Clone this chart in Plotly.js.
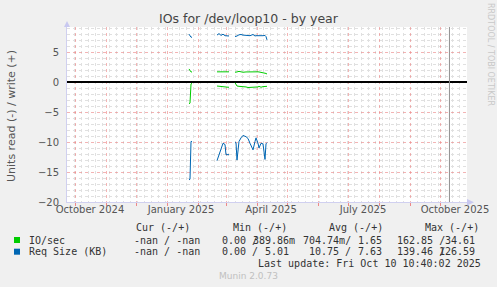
<!DOCTYPE html>
<html>
<head>
<meta charset="utf-8">
<script src="https://cdn.plot.ly/plotly-3.0.1.min.js"></script>
<style>html,body{margin:0;padding:0;background:#f0f0f0;}#chart{width:497px;height:287px;}</style>
</head>
<body>
<div id="chart"></div>
<script>
// ---- data ----
var dates = [
  "2025-01-23","2025-01-24","2025-01-25","2025-01-26",
  "2025-02-01",
  "2025-02-20","2025-02-22","2025-02-24","2025-02-26","2025-02-28","2025-03-01","2025-03-03","2025-03-04",
  "2025-03-07",
  "2025-03-10","2025-03-11","2025-03-12","2025-03-14","2025-03-16","2025-03-18","2025-03-21","2025-03-23","2025-03-25",
  "2025-03-28","2025-03-30","2025-03-31","2025-04-02","2025-04-03","2025-04-05","2025-04-07","2025-04-09","2025-04-10","2025-04-11"
];
var ioWrite = [2.2,2.0,1.7,1.7, null,
  1.72,1.72,1.72,1.72,1.72,1.72,1.72,1.72, null,
  1.65,1.65,1.7,1.8,1.7,1.65,1.7,1.72,1.72,1.72,1.7,1.68,1.72,1.7,1.65,1.62,1.55,1.45,1.35];
var ioRead = [-3.6,-3.5,-0.3,-0.2, null,
  -0.65,-0.7,-0.8,-0.85,-0.85,-0.85,-0.85,-0.85, null,
  -0.1,-0.5,-0.65,-0.7,-0.7,-0.7,-0.8,-0.9,-0.9,-0.85,-0.85,-0.8,-0.8,-0.7,-0.85,-0.75,-0.7,-0.75,-0.7];
var reqWrite = [8.0,7.8,7.5,7.5, null,
  7.85,8.1,7.8,8.0,7.75,7.75,7.75,7.7, null,
  7.6,7.6,7.7,7.9,7.95,7.85,7.8,7.8,7.75,7.95,7.7,7.75,7.8,7.75,7.75,7.75,7.8,7.6,7.05];
var reqRead = [-16.3,-16.2,-9.9,-9.9, null,
  -13.1,-12.2,-11.0,-10.2,-10.4,-12.1,-12.1,-12.1, null,
  -10.0,-10.1,-13.0,-9.9,-9.3,-8.9,-9.1,-9.4,-10.2,-11.3,-9.9,-9.3,-10.2,-11.0,-10.2,-10.3,-12.9,-10.3,-10.1];

var tickVals = ["2024-10-16","2025-01-15","2025-04-15","2025-07-16","2025-10-16"];
var tickText = ["October 2024","January 2025","April 2025","July 2025","October 2025"];
var xRange = ["2024-09-23","2025-10-28"];
var yRange = [-20, 9.2];
var lastUpdate = "2025-10-10 10:40";

var legendNames = ["IO/sec","Req Size (KB)"];
var curVals = ["-nan / -nan","-nan / -nan"];
var NB = "\u00a0";
var minRead  = ["0.00" + NB, "0.00" + NB];
var minWrite = ["389.86m", "5.01" + NB];
var avgRead  = ["704.74m", "10.75" + NB];
var avgWrite = ["1.65" + NB, "7.63" + NB];
var maxRead  = ["162.85" + NB, "139.46" + NB];
var maxWrite = ["34.61" + NB, "126.59" + NB];

var GREEN = "#00cc00", BLUE = "#0066b3";

// ---- traces ----
var traces = [
  {x: dates, y: ioRead, type: "scatter", mode: "lines", line: {color: GREEN, width: 1}, connectgaps: false, hoverinfo: "skip"},
  {x: dates, y: ioWrite, type: "scatter", mode: "lines", line: {color: GREEN, width: 1}, connectgaps: false, hoverinfo: "skip", xaxis: "x2"},
  {x: dates, y: reqRead, type: "scatter", mode: "lines", line: {color: BLUE, width: 1}, connectgaps: false, hoverinfo: "skip"},
  {x: dates, y: reqWrite, type: "scatter", mode: "lines", line: {color: BLUE, width: 1}, connectgaps: false, hoverinfo: "skip"}
];

// ---- layout helpers (pixel -> paper) ----
var L = 67, R = 30, T = 27, B = 85, W = 497, H = 287;
var pw = W - L - R, ph = H - T - B;
function px(x){ return (x - L) / pw; }
function py(y){ return (H - B - y) / ph; }

var mono = {family: "DejaVu Sans Mono, monospace", size: 10, color: "#333"};
var ann = [];
function txt(text, x, y, anchor, font){
  ann.push({text: text, xref: "paper", yref: "paper", x: px(x), y: py(y), xanchor: anchor || "left", yanchor: "middle", showarrow: false, font: font || mono});
}
// header
txt("Cur (-/+)", 134, 227.5);
txt("Min (-/+)", 230.5, 227.5);
txt("Avg (-/+)", 327, 227.5);
txt("Max (-/+)", 422.5, 227.5);
var rowY = [240, 251.7];
for (var i = 0; i < legendNames.length; i++) {
  txt(legendNames[i], 26.5, rowY[i]);
  txt(curVals[i], 132, rowY[i]);
  txt(minRead[i] + "/", 260, rowY[i], "right");
  txt(minWrite[i], 296.5, rowY[i], "right");
  txt(avgRead[i] + "/", 353, rowY[i], "right");
  txt(avgWrite[i], 389.5, rowY[i], "right");
  txt(maxRead[i] + "/", 446.5, rowY[i], "right");
  txt(maxWrite[i], 483, rowY[i], "right");
}
txt("Last update: Fri Oct 10 10:40:02 2025", 483, 263.5, "right");
txt("Munin 2.0.73", 248, 276, "center", {family: "DejaVu Sans, sans-serif", size: 9, color: "#c0c0c0"});
// y axis title
ann.push({text: "Units read (-) / write (+)", xref: "paper", yref: "paper", x: px(11), y: py(116), xanchor: "center", yanchor: "middle", textangle: -90, showarrow: false, font: {family: "DejaVu Sans, sans-serif", size: 11, color: "#555"}});
// right watermark
ann.push({text: "RRDTOOL / TOBI OETIKER", xref: "paper", yref: "paper", x: px(490), y: py(54), xanchor: "center", yanchor: "middle", textangle: 90, showarrow: false, font: {family: "DejaVu Sans, sans-serif", size: 8, color: "#c8c8c8"}});

var shapes = [
  {type: "line", xref: "x", yref: "paper", x0: lastUpdate, x1: lastUpdate, y0: 0, y1: 1, line: {color: "#909090", width: 1}},
  {type: "rect", xref: "paper", yref: "paper", x0: px(14), x1: px(20), y0: py(243), y1: py(237), fillcolor: GREEN, line: {width: 0}},
  {type: "rect", xref: "paper", yref: "paper", x0: px(14), x1: px(20), y0: py(254.7), y1: py(248.7), fillcolor: BLUE, line: {width: 0}},
  {type: "path", xref: "paper", yref: "paper", path: "M " + px(64) + " " + py(27) + " L " + px(70) + " " + py(27) + " L " + px(67) + " " + py(21) + " Z", fillcolor: "#c8c8f0", line: {width: 0}},
  {type: "path", xref: "paper", yref: "paper", path: "M " + px(467) + " " + py(199) + " L " + px(467) + " " + py(205.6) + " L " + px(474) + " " + py(202.3) + " Z", fillcolor: "#c8c8f0", line: {width: 0}}
];

var RED_GRID = "rgba(235,130,130,0.6)", GRAY_GRID = "#e0e0e0";

var layout = {
  width: W, height: H,
  margin: {l: L, r: R, t: T, b: B, pad: 0},
  paper_bgcolor: "#f0f0f0",
  plot_bgcolor: "#ffffff",
  showlegend: false,
  title: {text: "IOs for /dev/loop10 - by year", x: 0.5, xref: "container", y: 1 - 19/287, yref: "container", xanchor: "center", yanchor: "middle",
    font: {family: "DejaVu Sans, sans-serif", size: 12.5, color: "#444"}},
  xaxis: {
    type: "date", range: xRange, fixedrange: true,
    tickmode: "linear", tick0: "2024-10-01", dtick: "M1",
    showticklabels: false,
    showgrid: true, gridcolor: RED_GRID, griddash: "dot", gridwidth: 1,
    ticks: "outside", ticklen: 3, tickcolor: "#e88", tickwidth: 1,
    minor: {tickmode: "linear", tick0: "2024-09-30", dtick: 7*86400000, showgrid: true, gridcolor: GRAY_GRID, griddash: "dot", gridwidth: 1, ticks: ""},
    showline: true, linecolor: "#d0d0f0", linewidth: 1,
    zeroline: false
  },
  xaxis2: {
    type: "date", range: xRange, overlaying: "x", side: "bottom", fixedrange: true,
    tickmode: "array", tickvals: tickVals, ticktext: tickText,
    showgrid: false, zeroline: false, showline: false, ticks: "",
    tickfont: {family: "DejaVu Sans, sans-serif", size: 10, color: "#555"}
  },
  yaxis: {
    range: yRange, fixedrange: true,
    tickmode: "linear", tick0: 0, dtick: 5,
    showgrid: true, gridcolor: RED_GRID, griddash: "dot", gridwidth: 1,
    minor: {tickmode: "linear", tick0: 0, dtick: 1, showgrid: true, gridcolor: GRAY_GRID, griddash: "dot", gridwidth: 1, ticks: ""},
    zeroline: true, zerolinecolor: "#000000", zerolinewidth: 1.3,
    showline: true, linecolor: "#d0d0f0", linewidth: 1,
    ticks: "", ticklabelstandoff: 5,
    tickfont: {family: "DejaVu Sans, sans-serif", size: 10, color: "#555"}
  },
  annotations: ann,
  shapes: shapes
};

Plotly.newPlot("chart", traces, layout, {staticPlot: true, displayModeBar: false});
</script>
</body>
</html>
